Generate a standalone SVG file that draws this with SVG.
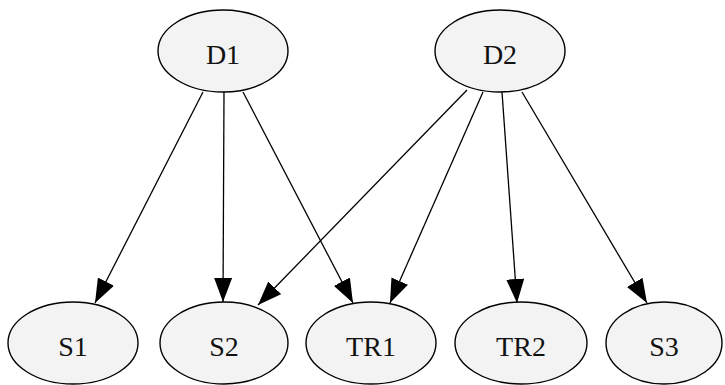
<svg xmlns="http://www.w3.org/2000/svg" width="725" height="385" viewBox="0 0 725 385">
  <style>
    .node ellipse { fill: #f3f3f3; stroke: #000; stroke-width: 1.4; }
    .node text { font-family: "Liberation Serif", "Times New Roman", serif; font-size: 28px; fill: #111; text-anchor: middle; }
    .edge { stroke: #000; stroke-width: 1.3; fill: none; marker-end: url(#arrow); }
  </style>
  <defs>
    <marker id="arrow" markerUnits="userSpaceOnUse" markerWidth="26" markerHeight="18" refX="24" refY="9" orient="auto">
      <path d="M0,0 L24,9 L0,18 Z" fill="#000"/>
    </marker>
  </defs>
  <rect width="725" height="385" fill="#fff"/>

  <!-- connectors -->
  <g id="edges">
    <line class="edge" x1="203" y1="92" x2="95" y2="303"/>
    <line class="edge" x1="224" y1="92" x2="223" y2="302"/>
    <line class="edge" x1="243" y1="92" x2="353" y2="303"/>
    <line class="edge" x1="467" y1="90" x2="258" y2="305"/>
    <line class="edge" x1="483" y1="92" x2="390" y2="303"/>
    <line class="edge" x1="502" y1="92" x2="517" y2="303"/>
    <line class="edge" x1="522" y1="92" x2="647" y2="303"/>
  </g>

  <!-- nodes -->
  <g id="D1" class="node"><ellipse cx="223" cy="51" rx="65" ry="41"/><text x="223" y="64">D1</text></g>
  <g id="D2" class="node"><ellipse cx="500" cy="51" rx="65" ry="41"/><text x="500" y="64">D2</text></g>
  <g id="S1" class="node"><ellipse cx="73" cy="343" rx="65" ry="41"/><text x="73" y="356">S1</text></g>
  <g id="S2" class="node"><ellipse cx="224" cy="343" rx="64" ry="41"/><text x="224" y="356">S2</text></g>
  <g id="TR1" class="node"><ellipse cx="371" cy="343" rx="65" ry="41"/><text x="371" y="356">TR1</text></g>
  <g id="TR2" class="node"><ellipse cx="521" cy="343" rx="66" ry="41"/><text x="521" y="356">TR2</text></g>
  <g id="S3" class="node"><ellipse cx="664" cy="343" rx="58" ry="41"/><text x="664" y="356">S3</text></g>
</svg>
